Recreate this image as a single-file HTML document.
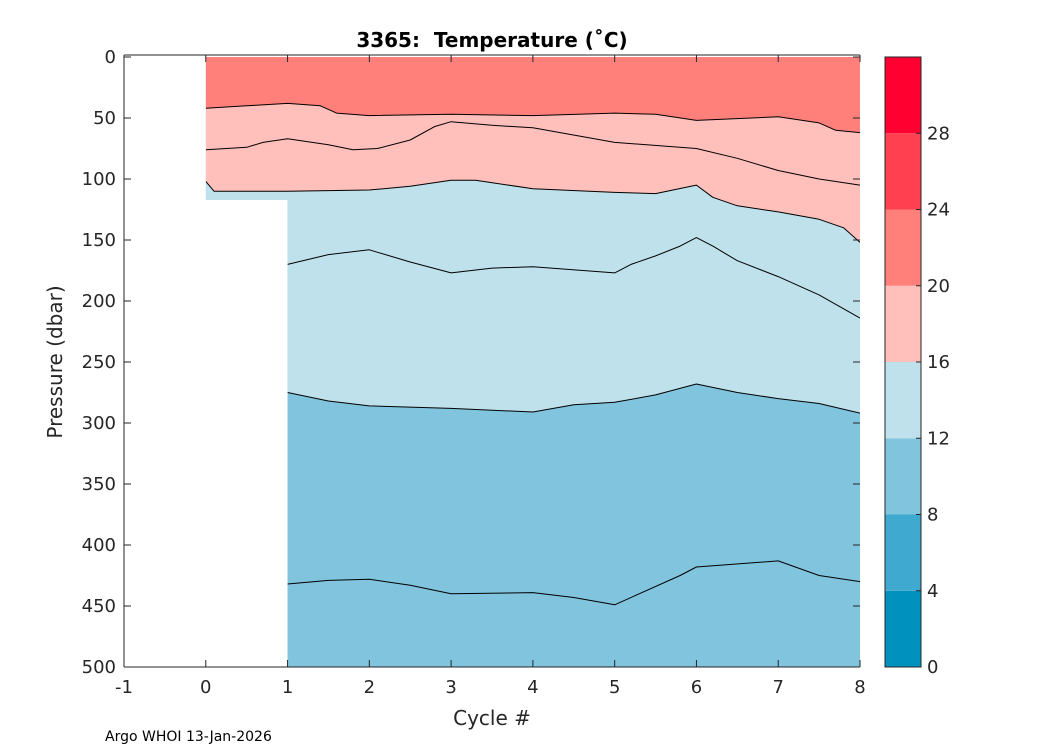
<!DOCTYPE html>
<html><head><meta charset="utf-8"><style>
body{margin:0;background:#fff;}
svg text{font-family:"DejaVu Sans","Liberation Sans",sans-serif;fill:#262626;white-space:pre;}
</style></head><body>
<svg id="chart" width="1050" height="750" xmlns="http://www.w3.org/2000/svg">
<rect width="1050" height="750" fill="#fff"/>
<g id="plot"></g>
<text x="492" y="47" text-anchor="middle" font-size="20" font-weight="bold" style="fill:#000">3365:  Temperature (˚C)</text>
<text x="492" y="725" text-anchor="middle" font-size="20">Cycle #</text>
<text transform="translate(62,362) rotate(-90)" text-anchor="middle" font-size="20">Pressure (dbar)</text>
<text x="105" y="741" font-size="14" style="fill:#000">Argo WHOI 13-Jan-2026</text>
<g id="cbar"></g>
</svg>
<script>
const xTicks=[-1,0,1,2,3,4,5,6,7,8];
const yTicks=[0,50,100,150,200,250,300,350,400,450,500];
const cbLevels=[0,4,8,12,16,20,24,28,32];
const cbLabels=[0,4,8,12,16,20,24,28];
const cbColors=["#0091bf","#40a9d0","#80c4de","#bfe1ec","#ffbfba","#ff807a","#ff4050","#ff0030"];
const iso20x=[0,0.5,1,1.4,1.6,2,3,4,5,5.5,6,7,7.5,7.7,8];
const iso20y=[42,40,38,40,46,48,47,48,46,47,52,49,54,60,62];
const iso18x=[0,0.5,0.7,1,1.5,1.8,2.1,2.5,2.8,3,3.5,4,5,6,6.5,7,7.5,8];
const iso18y=[76,74,70,67,72,76,75,68,57,53,56,58,70,75,83,93,100,105];
const iso16x=[0,0.1,1,2,2.5,3,3.3,4,5,5.5,6,6.2,6.5,7,7.5,7.8,8];
const iso16y=[102,110,110,109,106,101,101,108,111,112,105,115,122,127,133,140,152];
const iso14x=[1,1.5,2,2.5,3,3.5,4,5,5.2,5.5,5.8,6,6.2,6.5,7,7.5,8];
const iso14y=[170,162,158,168,177,173,172,177,170,163,155,148,155,167,180,195,214];
const iso12x=[1,1.5,2,3,4,4.5,5,5.5,6,6.5,7,7.5,8];
const iso12y=[275,282,286,288,291,285,283,277,268,275,280,284,292];
const iso10x=[1,1.5,2,2.5,3,4,4.5,5,5.3,5.8,6,7,7.5,8];
const iso10y=[432,429,428,433,440,439,443,449,440,425,418,413,425,430];
const cycle0Depth=117;

const X0=124,X1=860,Y0=57,Y1=667;
const sx=v=>X0+(v+1)/9*(X1-X0);
const sy=v=>Y0+v/500*(Y1-Y0);
const NS="http://www.w3.org/2000/svg";
const plot=document.getElementById('plot');
function mk(tag,attrs,parent){const e=document.createElementNS(NS,tag);for(const k in attrs)e.setAttribute(k,attrs[k]);parent.appendChild(e);return e;}
function pts(xs,ys){return xs.map((x,i)=>sx(x).toFixed(1)+','+sy(ys[i]).toFixed(1));}

const defs=mk('defs',{},plot);
const cp=mk('clipPath',{id:'dc'},defs);
mk('rect',{x:sx(0),y:sy(0),width:sx(1)-sx(0)+0.5,height:sy(cycle0Depth)-sy(0)},cp);
mk('rect',{x:sx(1),y:sy(0),width:sx(8)-sx(1),height:sy(500)-sy(0)},cp);
const g=mk('g',{'clip-path':'url(#dc)'},plot);
let r=mk('rect',{x:sx(0),y:sy(0),width:sx(8)-sx(0),height:sy(500)-sy(0),fill:cbColors[2]},g);


let p=mk('polygon',{points:[sx(0)+','+sy(0),...pts(iso12x,iso12y),sx(8)+','+sy(0)].join(' '),fill:cbColors[3]},g);


r=mk('rect',{x:sx(0),y:sy(0),width:sx(1)-sx(0)+0.5,height:sy(cycle0Depth)-sy(0),fill:cbColors[3]},g);


p=mk('polygon',{points:[sx(0)+','+sy(0),...pts(iso16x,iso16y),sx(8)+','+sy(0)].join(' '),fill:cbColors[4]},g);


p=mk('polygon',{points:[sx(0)+','+sy(0),...pts(iso20x,iso20y),sx(8)+','+sy(0)].join(' '),fill:cbColors[5]},g);


[[iso20x,iso20y,'20'],[iso18x,iso18y,'18'],[iso16x,iso16y,'16'],[iso14x,iso14y,'14'],[iso12x,iso12y,'12'],[iso10x,iso10y,'10']].forEach(([xs,ys,n])=>{
 const l=mk('polyline',{points:pts(xs,ys).join(' '),fill:'none',stroke:'#000','stroke-width':1,'stroke-linejoin':'round'},g);
 
 
});
mk('line',{x1:X0,y1:Y0-2,x2:X0,y2:Y1,stroke:'#262626'},plot);
mk('line',{x1:X0,y1:Y1,x2:X1,y2:Y1,stroke:'#262626'},plot);
mk('line',{x1:X0,y1:Y0-2,x2:X1,y2:Y0-2,stroke:'#262626'},plot);
xTicks.forEach(t=>{const x=sx(t);mk('line',{x1:x,y1:Y1,x2:x,y2:Y1-7,stroke:'#262626'},plot);mk('line',{x1:x,y1:Y0-2,x2:x,y2:Y0+5,stroke:'#262626'},plot);
 const tx=mk('text',{x:x,y:Y1+26,'text-anchor':'middle','font-size':18},plot);tx.textContent=t;
 
 });
yTicks.forEach(t=>{const y=sy(t);mk('line',{x1:X0,y1:y,x2:X0+7,y2:y,stroke:'#262626'},plot);mk('line',{x1:X1,y1:y,x2:X1-7,y2:y,stroke:'#262626'},plot);
 const tx=mk('text',{x:X0-8,y:y+6,'text-anchor':'end','font-size':18},plot);tx.textContent=t;
 
 });
const cb=document.getElementById('cbar');
const CX=885,CW=36;
const cy=v=>Y1-(v-0)/32*(Y1-Y0);
for(let i=0;i<cbColors.length;i++){
 const rr=mk('rect',{x:CX,y:cy(cbLevels[i+1]),width:CW,height:cy(cbLevels[i])-cy(cbLevels[i+1]),fill:cbColors[i]},cb);
 
 
}
mk('rect',{x:CX,y:Y0,width:CW,height:Y1-Y0,fill:'none',stroke:'#262626'},cb);
cbLabels.forEach(t=>{const y=cy(t);mk('line',{x1:CX+CW-5,y1:y,x2:CX+CW,y2:y,stroke:'#262626'},cb);
 const tx=mk('text',{x:CX+CW+6,y:y+6,'font-size':18},cb);tx.textContent=t;
 
 });
</script>
</body></html>
